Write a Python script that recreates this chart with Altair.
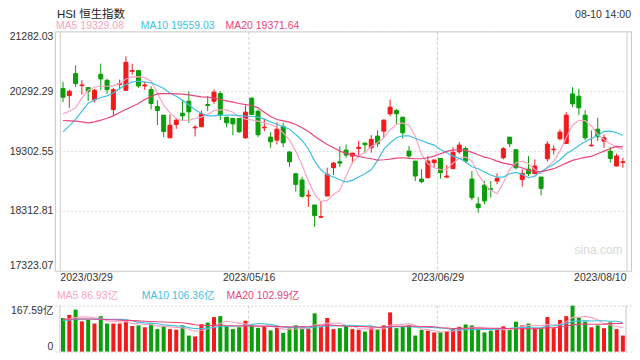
import altair as alt
import pandas as pd

title_text = "HSI 恒生指数"
time_text = "08-10 14:00"
watermark = "sina.com"
x_tick_values = [-0.5, 29.5, 59.5, 89.5]
x_tick_labels = ["2023/03/29", "2023/05/16", "2023/06/29", "2023/08/10"]
y_tick_values = [17323.07, 18312.81, 19302.55, 20292.29, 21282.03]
vol_max = 167.59
ma_names = ["MA5", "MA10", "MA20"]
ma_colors = ["#fca3c3", "#3fc1e3", "#e8467c"]
ma_last = ["19329.08", "19559.03", "19371.64"]
vol_ma_last = ["86.93亿", "106.36亿", "102.99亿"]
up_color = "#f21a1a"
down_color = "#0a9e0a"

opens = [20336, 20220, 20583, 20385, 20352, 20149, 20572, 20473, 19989, 20402,
         20308, 20622, 20633, 20380, 20319, 20039, 19896, 19522, 19742, 19929,
         20127, 19687, 19704, 20072, 20127, 20254, 19863, 19841, 19841, 19522,
         20177, 19962, 19687, 19533, 19484, 19709, 19286, 18928, 18824, 18560,
         18411, 18208, 18560, 19027, 19126, 19319, 19220, 19346, 19434, 19357,
         19550, 19632, 19918, 19973, 19863, 19302, 19137, 18840, 18862, 19110,
         19181, 18873, 19011, 19291, 19346, 18840, 18428, 18741, 18681, 18807,
         19192, 19533, 19324, 18835, 19005, 18928, 18873, 19176, 19324, 19506,
         19429, 20248, 20210, 19896, 19390, 19665, 19467, 19302, 19055, 19115]
highs = [20446, 20319, 20721, 20473, 20358, 20330, 20748, 20495, 20347, 20484,
         20869, 20743, 20640, 20457, 20375, 20144, 19900, 19907, 19836, 20149,
         20292, 19731, 19973, 20210, 20320, 20292, 19866, 19845, 19845, 20056,
         20193, 19990, 19841, 19616, 19781, 19770, 19302, 18935, 18879, 18659,
         18415, 18477, 19027, 19121, 19379, 19412, 19272, 19467, 19437, 19566,
         19643, 19825, 20155, 20001, 19866, 19385, 19140, 19005, 19220, 19165,
         19185, 19071, 19368, 19451, 19379, 18972, 18543, 18807, 18807, 18934,
         19368, 19536, 19327, 19000, 19220, 19165, 18876, 19467, 19396, 19660,
         19946, 20358, 20331, 19979, 19643, 19852, 19577, 19368, 19258, 19192]
lows = [20110, 20017, 20363, 20237, 20127, 20110, 20308, 20248, 19896, 20319,
        20300, 20567, 20347, 20314, 19990, 19731, 19533, 19515, 19671, 19797,
        19770, 19544, 19700, 19962, 20083, 19814, 19698, 19566, 19605, 19506,
        19896, 19533, 19632, 19352, 19412, 19368, 19044, 18631, 18532, 18378,
        18048, 18202, 18555, 18906, 19038, 19192, 19093, 19236, 19264, 19275,
        19368, 19522, 19880, 19742, 19511, 19192, 18807, 18769, 18851, 19027,
        18846, 18851, 19008, 19258, 19110, 18488, 18285, 18422, 18532, 18752,
        19165, 19368, 19000, 18714, 18890, 18925, 18571, 19126, 19247, 19478,
        19426, 20028, 19896, 19484, 19379, 19467, 19357, 19110, 19052, 19027]
closes = [20193, 20292, 20418, 20396, 20292, 20308, 20495, 20319, 20319, 20418,
          20770, 20633, 20380, 20396, 20089, 19973, 19627, 19731, 19814, 19885,
          19951, 19698, 19918, 20056, 20276, 19896, 19770, 19753, 19621, 19946,
          19907, 19572, 19698, 19456, 19665, 19440, 19126, 18752, 18554, 18571,
          18235, 18219, 18917, 19104, 19104, 19236, 19269, 19363, 19407, 19495,
          19423, 19814, 20028, 19918, 19605, 19220, 18890, 18796, 19137, 19154,
          18945, 18890, 19280, 19401, 19137, 18532, 18367, 18477, 18664, 18851,
          19341, 19423, 19027, 18934, 18928, 19055, 18686, 19418, 19335, 19616,
          19896, 20083, 20017, 19522, 19401, 19539, 19522, 19181, 19220, 19126]
ma5 = [19918, 19962, 20017, 20182, 20308, 20358, 20374, 20374, 20385, 20418,
       20495, 20528, 20534, 20517, 20457, 20264, 20061, 19934, 19841, 19808,
       19813, 19841, 19863, 19907, 19973, 19984, 19984, 19945, 19874, 19830,
       19819, 19797, 19769, 19742, 19698, 19604, 19483, 19302, 19071, 18807,
       18587, 18466, 18488, 18587, 18653, 18889, 19115, 19219, 19285, 19379,
       19439, 19522, 19654, 19747, 19769, 19731, 19549, 19247, 19093, 19027,
       18994, 19005, 19104, 19181, 19203, 19137, 18917, 18763, 18653, 18598,
       18779, 18999, 19109, 19137, 19093, 18999, 18928, 19038, 19137, 19302,
       19522, 19731, 19808, 19808, 19714, 19577, 19494, 19423, 19368, 19329.08]
ma10 = [19621, 19720, 19825, 19962, 20094, 20149, 20188, 20215, 20264, 20336,
        20402, 20446, 20457, 20446, 20430, 20391, 20336, 20264, 20210, 20144,
        20067, 19984, 19924, 19885, 19885, 19896, 19896, 19896, 19891, 19880,
        19874, 19863, 19830, 19786, 19747, 19709, 19665, 19577, 19478, 19341,
        19137, 18994, 18912, 18873, 18829, 18791, 18818, 18873, 18928, 18994,
        19148, 19335, 19439, 19522, 19555, 19555, 19511, 19478, 19434, 19401,
        19329, 19275, 19219, 19181, 19126, 19044, 19011, 18956, 18906, 18873,
        18873, 18928, 18950, 18917, 18862, 18889, 18961, 19027, 19082, 19159,
        19258, 19319, 19396, 19456, 19511, 19561, 19627, 19632, 19610, 19559.03]
ma20 = [19808, 19803, 19797, 19786, 19769, 19786, 19813, 19846, 19885, 19940,
        19990, 20039, 20089, 20155, 20204, 20248, 20254, 20254, 20248, 20243,
        20232, 20215, 20199, 20193, 20177, 20155, 20133, 20111, 20089, 20072,
        20056, 20017, 19946, 19874, 19825, 19803, 19781, 19742, 19687, 19627,
        19549, 19478, 19412, 19357, 19302, 19264, 19236, 19214, 19192, 19176,
        19154, 19159, 19170, 19187, 19192, 19181, 19176, 19176, 19192, 19219,
        19258, 19297, 19319, 19324, 19313, 19280, 19242, 19203, 19176, 19137,
        19104, 19082, 19060, 19022, 18983, 18961, 18967, 18983, 19011, 19055,
        19104, 19148, 19176, 19198, 19214, 19258, 19302, 19346, 19379, 19371.64]
volumes = [122.7, 134.0, 153.1, 110.3, 115.9, 102.4, 129.4, 102.4, 102.4, 102.4,
           113.7, 93.4, 95.7, 88.9, 104.7, 82.1, 93.4, 82.1, 79.9, 95.7,
           58.5, 55.1, 100.2, 105.8, 126.1, 129.4, 93.4, 82.1, 88.9, 112.6,
           97.9, 86.6, 91.2, 77.6, 86.6, 68.6, 84.4, 95.7, 86.6, 82.1,
           139.6, 91.2, 122.7, 82.1, 85.5, 93.4, 82.1, 79.9, 73.1, 87.8,
           79.9, 95.7, 143.0, 85.5, 91.2, 95.7, 58.5, 78.8, 76.5, 69.8,
           70.9, 74.3, 84.4, 90.0, 99.0, 95.7, 79.9, 69.8, 76.5, 79.9,
           92.3, 78.8, 109.2, 95.7, 102.4, 85.5, 85.5, 126.1, 85.5, 115.9,
           129.4, 167.59, 124.9, 109.2, 88.9, 95.7, 85.5, 106.9, 82.1, 58.5]
vol_ma5 = [118.0, 120.0, 124.0, 126.0, 127.2, 123.1, 122.2, 112.1, 110.5, 107.8,
           110.1, 102.9, 101.5, 98.8, 99.3, 93.0, 93.0, 90.2, 88.4, 86.6,
           81.9, 74.3, 77.9, 83.1, 89.1, 103.3, 111.0, 107.4, 104.0, 101.3,
           95.0, 93.6, 95.4, 93.2, 88.0, 82.1, 81.7, 82.6, 84.4, 83.5,
           97.7, 99.0, 104.4, 103.5, 104.2, 95.0, 93.2, 84.6, 82.8, 83.3,
           80.6, 83.3, 95.9, 98.4, 99.1, 102.2, 94.8, 81.9, 80.1, 75.9,
           70.9, 74.1, 75.2, 77.9, 83.7, 88.7, 89.8, 86.9, 84.2, 80.4,
           79.7, 79.5, 87.3, 91.2, 95.7, 94.3, 95.7, 99.0, 97.0, 99.7,
           108.5, 124.9, 124.7, 129.4, 124.0, 117.3, 100.8, 97.2, 91.8, 86.93]
vol_ma10 = [114.0, 115.0, 117.0, 118.0, 119.0, 119.0, 119.0, 118.0, 118.0, 117.5,
            116.6, 112.6, 106.8, 104.7, 103.6, 101.6, 98.0, 95.9, 93.6, 93.0,
            87.5, 83.7, 84.1, 85.8, 87.9, 92.6, 92.7, 92.7, 93.6, 95.2,
            99.2, 102.3, 101.4, 98.6, 94.7, 88.6, 87.7, 89.0, 88.8, 85.8,
            89.9, 90.4, 93.5, 94.0, 93.9, 96.4, 96.1, 94.5, 93.2, 93.8,
            87.8, 88.3, 90.3, 90.6, 91.2, 91.4, 89.1, 88.9, 89.3, 87.5,
            86.6, 84.5, 78.6, 79.0, 79.8, 79.8, 82.0, 81.1, 81.1, 82.1,
            84.2, 84.7, 87.1, 87.7, 88.1, 87.0, 87.6, 93.2, 94.1, 97.7,
            101.4, 110.3, 111.9, 113.2, 111.9, 112.9, 112.9, 111.0, 110.6, 106.36]
vol_ma20 = [118.0, 118.0, 119.0, 119.0, 119.0, 118.0, 118.0, 117.0, 116.0, 115.0,
            114.0, 113.0, 112.0, 111.0, 110.0, 109.0, 108.0, 107.0, 106.0, 105.3,
            102.1, 98.2, 95.5, 95.3, 95.8, 97.1, 95.4, 94.3, 93.6, 94.1,
            93.4, 93.0, 92.8, 92.2, 91.3, 90.6, 90.2, 90.9, 91.2, 90.5,
            94.6, 96.4, 97.5, 96.3, 94.3, 92.5, 91.9, 91.8, 91.0, 89.8,
            88.9, 89.4, 91.9, 92.3, 92.6, 93.9, 92.6, 91.7, 91.3, 90.7,
            87.2, 86.4, 84.5, 84.8, 85.5, 85.6, 85.6, 85.0, 85.2, 84.8,
            85.4, 84.6, 82.9, 83.4, 84.0, 83.4, 84.8, 87.2, 87.6, 89.9,
            92.8, 97.5, 99.5, 100.5, 100.0, 100.0, 100.3, 102.1, 102.4, 102.99]

n = len(closes)
df = pd.DataFrame({
    "i": list(range(n)), "open": opens, "high": highs, "low": lows, "close": closes,
    "ma5": ma5, "ma10": ma10, "ma20": ma20, "vol": volumes,
    "vma5": vol_ma5, "vma10": vol_ma10, "vma20": vol_ma20,
})
df["dir"] = ["up" if c >= o else "down" for o, c in zip(opens, closes)]
grid_df = pd.DataFrame({"pos": x_tick_values,
                        "kind": ["edge", "mid", "mid", "edge"]})

W = 577.5
FONT = "Liberation Sans, Arial, Noto Sans CJK SC"
FS = 10.5
label_expr = "[" + ",".join("'%s'" % t for t in x_tick_labels) + "][indexof([" + \
    ",".join(str(v) for v in x_tick_values) + "], datum.value)]"
color_scale = alt.Scale(domain=["up", "down"], range=[up_color, down_color])
x_scale = alt.Scale(domain=[x_tick_values[0], x_tick_values[-1]], nice=False, zero=False)
grid_dash = {"condition": {"test": "datum.value > 0 && datum.value < 89", "value": [3, 2]}, "value": []}
x_align = {"condition": [{"test": "datum.value < 0", "value": "left"},
                         {"test": "datum.value > 89", "value": "right"}], "value": "center"}
y_base = {"condition": [{"test": "datum.value > 21000", "value": "top"},
                        {"test": "datum.value < 17400", "value": "bottom"}], "value": "middle"}
v_base = {"condition": [{"test": "datum.value > 100", "value": "top"},
                        {"test": "datum.value < 1", "value": "bottom"}], "value": "middle"}

x_top = alt.X("i:Q", scale=x_scale, title=None,
              axis=alt.Axis(values=x_tick_values, labelExpr=label_expr, labelFlush=False,
                            labelAlign=x_align, grid=True, gridDash=grid_dash,
                            gridColor="#cfcfcf", ticks=False, domain=False, labelPadding=2,
                            minExtent=0))
y_scale = alt.Scale(domain=[y_tick_values[0], y_tick_values[-1]], nice=False, zero=False)
y_top = alt.Y("low:Q", scale=y_scale, title=None,
              axis=alt.Axis(values=y_tick_values, format=".2f", labelFlush=False,
                            labelBaseline=y_base, grid=True, gridDash=[2, 2],
                            gridColor="#dddddd", ticks=False, domain=False, labelPadding=2,
                            minExtent=0))

base = alt.Chart(df)
wick = base.mark_rule(strokeWidth=1).encode(
    x=x_top, y=y_top, y2="high:Q",
    color=alt.Color("dir:N", scale=color_scale, legend=None))
body = base.mark_bar(width=4, strokeWidth=1).encode(
    x="i:Q", y="open:Q", y2="close:Q",
    color=alt.Color("dir:N", scale=color_scale, legend=None),
    stroke=alt.Stroke("dir:N", scale=color_scale, legend=None))
lines = [base.mark_line(color=c, strokeWidth=1.2).encode(x="i:Q", y=alt.Y(f"{f}:Q"))
         for f, c in zip(["ma5", "ma10", "ma20"], ma_colors)]


def txt(text, x, y, color, align="left", size=FS, font=FONT):
    return alt.Chart(pd.DataFrame({"t": [text]})).mark_text(
        align=align, baseline="middle", fontSize=size, font=font, color=color
    ).encode(text="t:N", x=alt.value(x), y=alt.value(y))


# invisible anchor fixing the top-left corner of the drawing (layout only)
anchor = alt.Chart(pd.DataFrame({"a": [0]})).mark_rule(opacity=0).encode(
    x=alt.value(-46), x2=alt.value(-46), y=alt.value(-22.5), y2=alt.value(0))

legend_x = [1, 86, 171]
top_texts = [txt(title_text, 2, -16.5, "#222222", size=11.5)]
top_texts.append(txt(time_text, W, -16.5, "#333333", align="right"))
for k in range(3):
    top_texts.append(txt(f"{ma_names[k]} {ma_last[k]}", legend_x[k], -5, ma_colors[k]))
top_texts.append(txt(watermark, 569, 219, "#d8d8d8", align="right", size=12))

top = alt.layer(wick, body, *lines, *top_texts, anchor).properties(width=W, height=240)

# volume panel
x_vol = alt.X("i:Q", scale=x_scale, title=None, axis=None)
y_vol = alt.Y("vol:Q", scale=alt.Scale(domain=[0, vol_max], nice=False), title=None,
              axis=alt.Axis(values=[0, vol_max], labelFlush=False, labelBaseline=v_base,
                            grid=True, gridDash=[2, 2], gridColor="#d0d0d0", ticks=False,
                            domain=False, labelPadding=2, minExtent=0,
                            labelExpr="datum.value == 0 ? '0' : format(datum.value, '.2f') + '亿'"))
vbars = alt.Chart(df).mark_bar(width=4).encode(
    x=x_vol, y=y_vol, color=alt.Color("dir:N", scale=color_scale, legend=None))
vgrid_edge = alt.Chart(grid_df).transform_filter("datum.kind == 'edge'").mark_rule(
    color="#c8c8c8", strokeWidth=1).encode(x=alt.X("pos:Q", scale=x_scale, axis=None))
vgrid_mid = alt.Chart(grid_df).transform_filter("datum.kind == 'mid'").mark_rule(
    color="#cfcfcf", strokeWidth=1, strokeDash=[3, 2]).encode(
    x=alt.X("pos:Q", scale=x_scale, axis=None))
vlines = [alt.Chart(df).mark_line(color=c, strokeWidth=1.1).encode(x="i:Q", y=alt.Y(f"{f}:Q"))
          for f, c in zip(["vma5", "vma10", "vma20"], ma_colors)]
vol_texts = [txt(f"{ma_names[k]} {vol_ma_last[k]}", legend_x[k] + 1, -10, ma_colors[k])
             for k in range(3)]
bottom = alt.layer(vgrid_edge, vgrid_mid, vbars, *vlines, *vol_texts).properties(
    width=W, height=46, view=alt.ViewBackground(stroke=None))

chart = alt.vconcat(top, bottom, spacing=35, bounds="flush").properties(
    padding={"left": 0, "top": 0, "right": 0, "bottom": 0},
).configure_view(stroke="#c8c8c8", strokeWidth=1).configure_axis(
    labelFont=FONT, labelFontSize=FS, labelColor="#333333")

chart.save("out.html", embed_options={"renderer": "svg", "actions": False})
